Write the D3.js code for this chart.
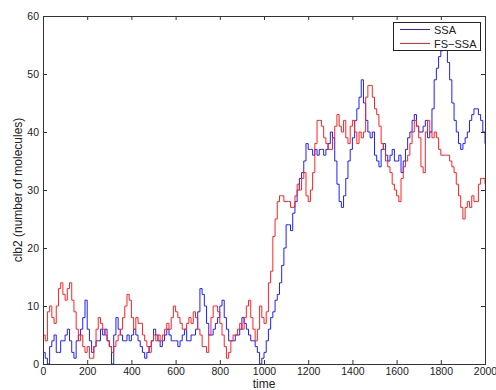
<!DOCTYPE html>
<html>
<head>
<meta charset="utf-8">
<script src="https://cdn.jsdelivr.net/npm/d3@7"></script>
<style>
  body { margin: 0; background: #fff; }
  svg { display: block; font-family: "Liberation Sans", Arial, sans-serif; }
</style>
</head>
<body>
<div class="chart_wrapper"></div>
<script>
const times = d3.range(0, 2001, 10)
const ssa = [
  2, 1, 0, 3, 4, 5, 2, 2, 4, 4,
  5, 6, 4, 2, 1, 4, 5, 6, 8, 11,
  6, 4, 2, 3, 4, 4, 6, 5, 6, 4,
  3, 0, 5, 8, 6, 5, 4, 4, 5, 4,
  5, 6, 5, 4, 3, 2, 1, 2, 3, 4,
  6, 5, 4, 3, 4, 5, 6, 5, 4, 4,
  4, 3, 4, 5, 6, 4, 4, 5, 5, 6,
  9, 13, 12, 10, 7, 5, 5, 6, 7, 8,
  10, 11, 8, 6, 4, 4, 4, 5, 5, 6,
  8, 7, 6, 5, 4, 4, 3, 2, 0, 1,
  2, 4, 6, 8, 9, 11, 12, 14, 17, 20,
  24, 24, 23, 26, 28, 30, 32, 33, 35, 38,
  37, 37, 36, 37, 36, 37, 37, 36, 37, 38,
  40, 39, 35, 31, 28, 27, 29, 32, 35, 37,
  39, 42, 44, 46, 49, 45, 42, 40, 39, 40,
  36, 35, 34, 37, 38, 36, 35, 36, 37, 35,
  35, 36, 33, 35, 37, 39, 40, 42, 43, 41,
  40, 40, 41, 42, 39, 40, 44, 49, 51, 53,
  54, 56, 55, 52, 49, 45, 42, 40, 38, 37,
  38, 39, 40, 42, 43, 44, 44, 43, 42, 40,
  38
]
const fsSsa = [
  5, 4, 9, 10, 8, 7, 10, 13, 14, 12,
  11, 13, 14, 11, 9, 6, 4, 5, 3, 2,
  3, 1, 1, 3, 6, 8, 7, 6, 5, 4,
  3, 2, 3, 4, 5, 6, 8, 10, 12, 11,
  8, 6, 8, 7, 7, 5, 4, 3, 2, 4,
  5, 4, 5, 4, 5, 6, 7, 6, 8, 10,
  9, 8, 7, 6, 6, 7, 8, 7, 9, 8,
  6, 5, 3, 3, 2, 5, 8, 10, 10, 9,
  7, 5, 3, 1, 2, 4, 5, 5, 6, 7,
  6, 8, 10, 11, 8, 6, 4, 6, 10, 8,
  7, 9, 14, 16, 22, 25, 28, 29, 29, 28,
  28, 28, 27, 27, 29, 31, 30, 32, 33, 29,
  28, 30, 33, 38, 42, 42, 41, 39, 38, 37,
  37, 39, 41, 43, 41, 40, 42, 39, 38, 41,
  42, 40, 38, 40, 39, 40, 46, 48, 48, 46,
  44, 43, 41, 38, 37, 35, 34, 33, 31, 30,
  29, 28, 32, 34, 35, 36, 38, 40, 42, 41,
  39, 34, 33, 40, 42, 40, 39, 40, 39, 37,
  36, 36, 36, 36, 35, 34, 33, 31, 29, 27,
  25, 27, 28, 27, 29, 28, 28, 31, 32, 32,
  31
]
const seriesNames = ['SSA', 'FS\u2212SSA']
const seriesColors = ['#1f1fff', '#ff2222']
const xTicks = d3.range(0, 2001, 200)
const yTicks = [0, 10, 20, 30, 40, 50, 60]

const width = 496
const height = 390
const margin = { top: 16, right: 11, bottom: 26, left: 43 }

const svg = d3.select('.chart_wrapper')
    .append('svg')
    .attr('width', width)
    .attr('height', height)

const x = d3.scaleLinear().domain([0, 2000]).range([margin.left, width - margin.right])
const y = d3.scaleLinear().domain([0, 60]).range([height - margin.bottom, margin.top])

svg.append('clipPath').attr('id', 'plot_clip')
    .append('rect')
    .attr('x', margin.left).attr('y', margin.top)
    .attr('width', x(2000) - x(0)).attr('height', y(0) - y(60))

const line = d3.line()
    .x((d, i) => x(times[i]))
    .y(d => y(d))
    .curve(d3.curveStepAfter)

const lines_g = svg.append('g').attr('clip-path', 'url(#plot_clip)')
;[ssa, fsSsa].forEach((vals, k) => {
    lines_g.append('path')
        .datum(vals)
        .attr('fill', 'none')
        .attr('stroke', seriesColors[k])
        .attr('stroke-width', 1)
        .attr('d', line)
})

// matlab style box with inward ticks
const tickLen = 4
const axis_g = svg.append('g').attr('stroke', '#333').attr('fill', 'none')
axis_g.append('rect')
    .attr('x', x(0) + 0.5).attr('y', y(60) + 0.5)
    .attr('width', x(2000) - x(0)).attr('height', y(0) - y(60))
    .attr('stroke-width', 1)

const fmt = d3.format('d')
const xAxis = d3.axisBottom(x).tickValues(xTicks).tickFormat(fmt).tickSizeInner(-tickLen).tickSizeOuter(0).tickPadding(4)
const gx = svg.append('g').attr('transform', `translate(0,${y(0)})`).call(xAxis)
const xAxisTop = d3.axisTop(x).tickValues(xTicks).tickSizeInner(-tickLen).tickSizeOuter(0).tickFormat('')
const gxt = svg.append('g').attr('transform', `translate(0,${y(60)})`).call(xAxisTop)
const yAxis = d3.axisLeft(y).tickValues(yTicks).tickFormat(fmt).tickSizeInner(-tickLen).tickSizeOuter(0).tickPadding(4)
const gy = svg.append('g').attr('transform', `translate(${x(0)},0)`).call(yAxis)
const yAxisRight = d3.axisRight(y).tickValues(yTicks).tickSizeInner(-tickLen).tickSizeOuter(0).tickFormat('')
const gyr = svg.append('g').attr('transform', `translate(${x(2000)},0)`).call(yAxisRight)

;[gx, gxt, gy, gyr].forEach(g => {
    g.select('.domain').remove()
    g.selectAll('line').attr('stroke', '#333')
    g.selectAll('text').attr('font-size', 10.5).attr('fill', '#222')
        .attr('font-family', '"Liberation Sans", Arial, sans-serif')
})

svg.append('text')
    .attr('x', (x(0) + x(2000)) / 2)
    .attr('y', 388)
    .attr('text-anchor', 'middle')
    .attr('font-size', 12)
    .attr('fill', '#222')
    .text('time')

svg.append('text')
    .attr('transform', `translate(22,${(y(0) + y(60)) / 2}) rotate(-90)`)
    .attr('text-anchor', 'middle')
    .attr('font-size', 12)
    .attr('fill', '#222')
    .text('clb2 (number of molecules)')

// legend
const leg = svg.append('g').attr('transform', 'translate(393,22)')
leg.append('rect')
    .attr('x', 0.5).attr('y', 0.5)
    .attr('width', 87).attr('height', 28)
    .attr('fill', '#fff')
    .attr('stroke', '#222')
seriesNames.forEach((name, i) => {
    leg.append('line')
        .attr('x1', 7).attr('x2', 37)
        .attr('y1', 7.5 + i * 14).attr('y2', 7.5 + i * 14)
        .attr('stroke', seriesColors[i])
        .attr('stroke-width', 1)
    leg.append('text')
        .attr('x', 41).attr('y', 11.5 + i * 14)
        .attr('font-size', 11)
        .attr('fill', '#222')
        .text(name)
})
</script>
</body>
</html>
